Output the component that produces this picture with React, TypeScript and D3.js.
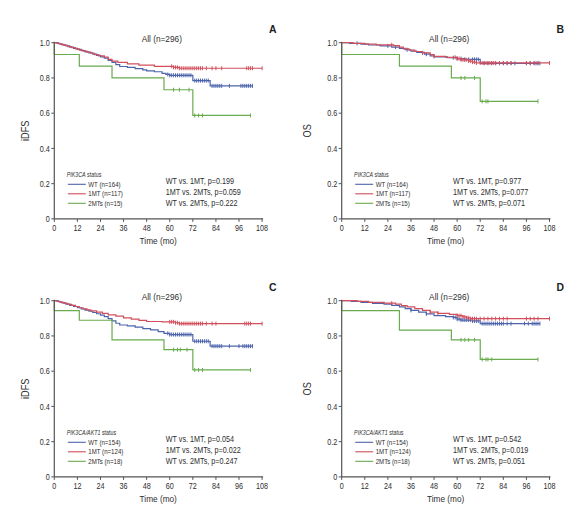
import React from "react";
import * as d3 from "d3";

// ---------- data ----------
const timeTicks = [0, 12, 24, 36, 48, 60, 72, 84, 96, 108];
const survTicks = [0, 0.2, 0.4, 0.6, 0.8, 1.0];
const groupNames = ["WT", "1MT", "2MTs"];
const panelLetters = ["A", "B", "C", "D"];
const yLabels = ["iDFS", "OS", "iDFS", "OS"];
const legendGenes = ["PIK3CA", "PIK3CA", "PIK3CA/AKT1", "PIK3CA/AKT1"];
const panelTitle = "All (n=296)";
const countsPIK3CA = [164, 117, 15];
const countsCombined = [154, 124, 18];
const pValuesA = ["0.199", "0.059", "0.222"];
const pValuesB = ["0.977", "0.077", "0.071"];
const pValuesC = ["0.054", "0.022", "0.247"];
const pValuesD = ["0.542", "0.019", "0.051"];
const comparisons = ["WT vs. 1MT", "1MT vs. 2MTs", "WT vs. 2MTs"];

// step points [time, survival after drop]
const stepsA_WT = [[2,0.994],[4,0.988],[6,0.982],[8,0.975],[10,0.968],[12,0.962],[14,0.955],[16,0.948],[18,0.942],[20,0.935],[22,0.928],[24,0.92],[26,0.912],[28,0.9],[30,0.888],[32,0.876],[34,0.865],[38,0.86],[42,0.853],[46,0.846],[48,0.84],[52,0.835],[56,0.826],[58,0.82],[60,0.815],[72,0.785],[81,0.755]];
const stepsA_1MT = [[1,0.997],[3,0.991],[5,0.985],[7,0.978],[9,0.972],[11,0.965],[13,0.958],[15,0.952],[17,0.946],[19,0.94],[21,0.932],[23,0.925],[26,0.918],[28,0.905],[30,0.895],[33,0.888],[38,0.88],[44,0.873],[52,0.866],[62,0.86],[65,0.855]];
const stepsA_2MT = [[0,0.933],[13,0.867],[30,0.8],[57,0.733],[72,0.587]];
const stepsB_WT = [[4,0.996],[10,0.992],[14,0.987],[20,0.982],[26,0.975],[30,0.968],[33,0.96],[36,0.952],[39,0.945],[43,0.935],[46,0.925],[48,0.92],[55,0.915],[60,0.91],[64,0.905],[72,0.883]];
const stepsB_1MT = [[6,0.996],[12,0.992],[18,0.988],[27,0.983],[30,0.975],[32,0.965],[35,0.958],[38,0.95],[42,0.942],[46,0.932],[48,0.922],[54,0.917],[60,0.91],[62,0.903],[66,0.896],[68,0.89],[70,0.885]];
const stepsB_2MT = [[0,0.933],[30,0.867],[57,0.8],[72,0.667]];
const stepsC_WT = [[2,0.994],[4,0.988],[6,0.981],[8,0.974],[10,0.967],[12,0.96],[14,0.953],[16,0.946],[18,0.94],[20,0.933],[22,0.926],[24,0.918],[26,0.91],[28,0.898],[30,0.886],[32,0.872],[34,0.862],[38,0.857],[42,0.85],[46,0.842],[50,0.834],[54,0.825],[57,0.815],[60,0.808],[72,0.77],[81,0.742]];
const stepsC_1MT = [[1,0.997],[3,0.991],[5,0.985],[7,0.979],[9,0.973],[11,0.967],[13,0.96],[15,0.954],[17,0.948],[19,0.942],[22,0.935],[25,0.928],[28,0.92],[32,0.912],[36,0.903],[40,0.896],[44,0.888],[48,0.882],[56,0.88],[63,0.875],[65,0.87]];
const stepsC_2MT = [[0,0.944],[13,0.889],[30,0.778],[57,0.722],[72,0.607]];
const stepsD_WT = [[5,0.996],[10,0.99],[16,0.985],[22,0.98],[26,0.973],[30,0.965],[33,0.955],[36,0.945],[40,0.935],[44,0.925],[48,0.915],[54,0.91],[58,0.905],[60,0.895],[62,0.89],[68,0.885],[72,0.87]];
const stepsD_1MT = [[8,0.996],[14,0.99],[22,0.986],[28,0.98],[31,0.972],[34,0.965],[38,0.955],[42,0.945],[46,0.935],[50,0.928],[56,0.922],[60,0.915],[63,0.908],[65,0.903],[67,0.898]];
const stepsD_2MT = [[0,0.944],[30,0.833],[57,0.778],[72,0.667]];

const endTimesWT = 103;
const endTimes1MT = 108;
const endTimes2MT = 102;

// censor times
const censA_WT = [59,60,61,62,63,64,65,66,67,68,69,70,71,73,74,75,76,77,78,79,80,82,83,84,85,86,87,91,97,98,99,100,101,102,103];
const censA_1MT = [61,62,63,64,65,66,67,68,69,70,71,72,73,74,75,76,77,79,82,84,87,100,101,102,103,108];
const censA_2MT = [62,65,70,73,75,77,102];
const censB_WT = [8,24,28,34,44,58,60,62,64,66,68,69,70,71,74,76,78,80,82,84,86,88,90,96,98,100,101,102,103];
const censB_1MT = [26,42,48,59,60,61,62,63,64,65,66,67,68,69,70,72,73,74,75,76,77,78,79,80,82,84,86,88,96,98,100,102,108];
const censB_2MT = [62,64,69,73,75,76,102];
const censC_WT = [59,60,61,62,63,64,65,66,67,68,69,70,71,73,74,75,76,77,78,79,80,82,83,84,85,86,87,91,96,98,99,100,101,102,103];
const censC_1MT = [60,61,62,63,64,65,66,67,68,69,70,71,72,73,74,75,76,77,79,82,84,99,100,101,102,108];
const censC_2MT = [62,64,65.5,69,73,75,77,102];
const censD_WT = [36,44,58,59,60,61,62,63,64,65,66,67,68,69,70,71,73,74,75,76,77,78,79,80,81,82,83,84,86,88,95,97,99,100,101,102,103];
const censD_1MT = [26,46,50,60,61,62,63,64,65,66,67,68,69,70,72,74,76,78,80,82,84,86,96,98,100,102,108];
const censD_2MT = [62,64,66,69,73,75,76,78,102];

const colors = ["#4c64ab", "#d24f5c", "#6aab4e"];
const FONT = "'Liberation Sans', Arial, sans-serif";

// ---------- assembly ----------
const panels = [
  { steps: [stepsA_WT, stepsA_1MT, stepsA_2MT], cens: [censA_WT, censA_1MT, censA_2MT], counts: countsPIK3CA, p: pValuesA },
  { steps: [stepsB_WT, stepsB_1MT, stepsB_2MT], cens: [censB_WT, censB_1MT, censB_2MT], counts: countsPIK3CA, p: pValuesB },
  { steps: [stepsC_WT, stepsC_1MT, stepsC_2MT], cens: [censC_WT, censC_1MT, censC_2MT], counts: countsCombined, p: pValuesC },
  { steps: [stepsD_WT, stepsD_1MT, stepsD_2MT], cens: [censD_WT, censD_1MT, censD_2MT], counts: countsCombined, p: pValuesD },
];
const ends = [endTimesWT, endTimes1MT, endTimes2MT];
const origins = [[54.3, 42.7], [341.7, 42.7], [54.3, 300.7], [341.7, 300.7]];
const PW = 207.8;
const PH = 176.2;

function survAt(steps: number[][], t: number) {
  let s = 1;
  for (const [tt, v] of steps) if (tt <= t) s = v;
  return s;
}

function T(props: {
  x: number; y: number; size: number; sx: number; anchor?: string; rot?: number;
  weight?: string; fill?: string; children: React.ReactNode;
}) {
  const { x, y, size, sx, anchor = "start", rot = 0, weight, fill = "#2e2e2e", children } = props;
  return (
    <text
      transform={`translate(${x},${y})${rot ? ` rotate(${rot})` : ""} scale(${sx},1)`}
      fontSize={size}
      textAnchor={anchor}
      fontWeight={weight}
      fill={fill}
    >
      {children}
    </text>
  );
}

function Panel({ idx }: { idx: number }) {
  const [ox, oy] = origins[idx];
  const pd = panels[idx];
  const x = d3.scaleLinear().domain([0, 108]).range([ox, ox + PW]);
  const y = d3.scaleLinear().domain([0, 1]).range([oy + PH, oy]);
  const line = d3.line<number[]>().x((d) => x(d[0])).y((d) => y(d[1])).curve(d3.curveStepAfter);
  const axisColor = "#555";
  const yLabelOffset = yLabels[idx] === "OS" ? 31 : 25;
  return (
    <g fontFamily={FONT}>
      {pd.steps.map((st, gi) => {
        const pts = [[0, 1], ...st, [ends[gi], st[st.length - 1][1]]];
        return (
          <g key={gi}>
            <path d={line(pts) || ""} fill="none" stroke={colors[gi]} strokeWidth={1.2} />
            {pd.cens[gi].map((c, ci) => {
              const cx = x(c);
              const cy = y(survAt(st, c));
              return <line key={ci} x1={cx} x2={cx} y1={cy - 2} y2={cy + 2} stroke={colors[gi]} strokeWidth={1} />;
            })}
          </g>
        );
      })}
      <line x1={ox} x2={ox} y1={oy - 1} y2={oy + PH} stroke={axisColor} strokeWidth={1.2} />
      <line x1={ox} x2={ox + PW + 1} y1={oy + PH} y2={oy + PH} stroke={axisColor} strokeWidth={1.2} />
      {survTicks.map((v) => (
        <g key={"y" + v}>
          <line x1={ox - 3} x2={ox} y1={y(v)} y2={y(v)} stroke={axisColor} strokeWidth={1} />
          <T x={ox - 4.5} y={y(v) + 3.2} size={9} sx={0.8} anchor="end">
            {v === 0 ? "0" : v.toFixed(1)}
          </T>
        </g>
      ))}
      {timeTicks.map((t) => (
        <g key={"x" + t}>
          <line x1={x(t)} x2={x(t)} y1={oy + PH} y2={oy + PH + 3} stroke={axisColor} strokeWidth={1} />
          <T x={x(t)} y={oy + PH + 12.5} size={9} sx={0.8} anchor="middle">
            {t}
          </T>
        </g>
      ))}
      <T x={ox + PW / 2} y={oy + PH + 25.3} size={9.5} sx={0.87} anchor="middle">
        Time (mo)
      </T>
      <T x={ox - yLabelOffset} y={oy + PH / 2} size={10} sx={0.92} anchor="middle" rot={-90}>
        {yLabels[idx]}
      </T>
      <T x={ox + 107.5} y={oy - 1.2} size={9} sx={0.92} anchor="middle">
        {panelTitle}
      </T>
      <T x={ox + 218.5} y={oy - 9.5} size={11} sx={0.95} weight="bold" anchor="middle" fill="#222">
        {panelLetters[idx]}
      </T>
      <T x={ox + 12.4} y={oy + 134} size={6.5} sx={0.82}>
        <tspan fontStyle="italic">{legendGenes[idx]}</tspan> status
      </T>
      {groupNames.map((g, gi) => {
        const ly = oy + 141.6 + gi * 9.5;
        return (
          <g key={g}>
            <line x1={ox + 13.5} x2={ox + 31.5} y1={ly} y2={ly} stroke={colors[gi]} strokeWidth={1.1} />
            <T x={ox + 34} y={ly + 2.4} size={6.8} sx={0.9}>
              {`${g} (n=${pd.counts[gi]})`}
            </T>
          </g>
        );
      })}
      {comparisons.map((c, ci) => (
        <T key={c} x={ox + 111.4} y={oy + 141 + ci * 11.2} size={8.6} sx={0.84}>
          {`${c}, p=${pd.p[ci]}`}
        </T>
      ))}
    </g>
  );
}

export default function App() {
  return (
    <svg
      width={586}
      height={517}
      style={{ position: "absolute", left: 0, top: 0, background: "#fff" }}
    >
      <rect width={586} height={517} fill="#fff" />
      {panels.map((_, i) => (
        <Panel key={i} idx={i} />
      ))}
    </svg>
  );
}
